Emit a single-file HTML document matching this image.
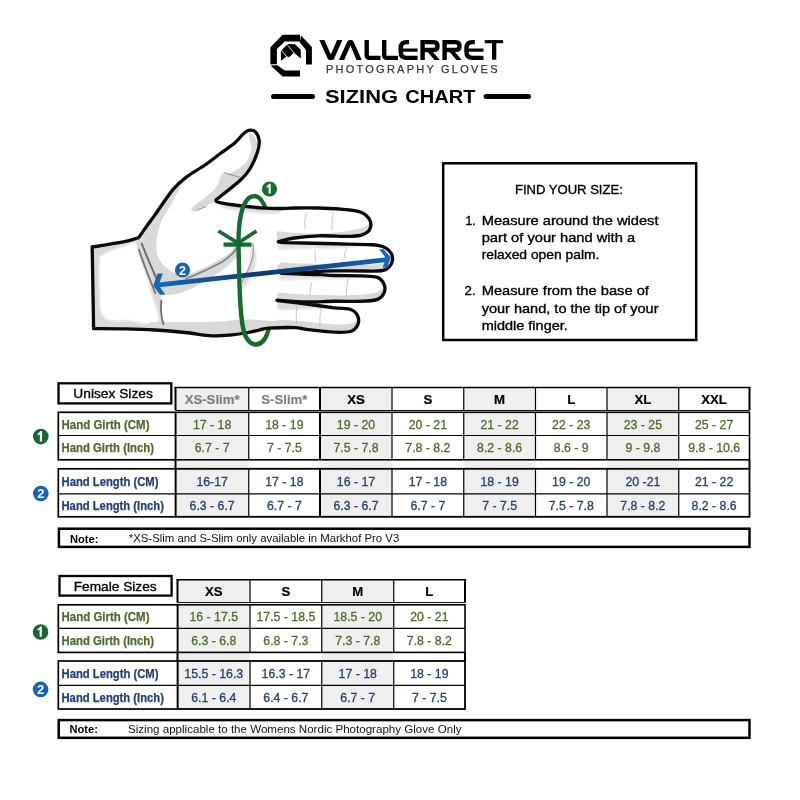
<!DOCTYPE html><html><head><meta charset="utf-8"><style>html,body{margin:0;padding:0;background:#fff;}svg{display:block;will-change:transform;}</style></head><body>
<svg width="800" height="800" viewBox="0 0 800 800">
<rect width="800" height="800" fill="#fff"/>
<polygon points="282.6,34.8 300,34.8 300,41.4 284.75,41.4 276.9,48.9 276.9,64.2 270.4,64.2 270.4,47.3" fill="#000"/>
<polygon points="301,35.6 311.9,47 311.9,64.5 306,64.5 306,50.1 299.8,42.4" fill="#000"/>
<polygon points="270.6,65.4 277.25,65.2 284.75,70.4 300,70.4 300,76.6 282.6,76.6" fill="#000"/>
<polygon points="280.9,51 287.6,44.1 295.1,44.3 300.75,49.75 300.75,58.4 294,52.75 288.9,57.25 286.6,56.3 281.5,60.6 280.9,60.2" fill="#000"/>
<line x1="286.7" y1="44.0" x2="294.3" y2="53.2" stroke="#fff" stroke-width="0.9"/>
<line x1="281.0" y1="50.0" x2="286.9" y2="56.8" stroke="#fff" stroke-width="0.9"/>
<path d="M319.3,40.1 L324.4,40.1 L330.9,54.6 L337.1,40.1 L342.4,40.1 L334.2,58.4 Q333.4,59.9 331.9,59.9 L329.9,59.9 Q328.4,59.9 327.6,58.4 Z" fill="#000"/>
<path d="M338.9,60.1 L344.2,60.1 L350.5,45.6 L356.5,60.1 L361.8,60.1 L353.6,41.7 Q352.8,40.1 351.3,40.1 L349.5,40.1 Q348,40.1 347.2,41.7 Z" fill="#000"/>
<path d="M366.7,40.1 L366.7,55.0 Q366.7,57.9 369.7,57.9 L380.5,57.9" fill="none" stroke="#000" stroke-width="4.4"/>
<path d="M384.2,40.1 L384.2,55.0 Q384.2,57.9 387.2,57.9 L398,57.9" fill="none" stroke="#000" stroke-width="4.4"/>
<path d="M409.1,42.1 L406.7,42.1 Q400.7,42.1 400.7,48 L400.7,52 Q400.7,57.9 406.7,57.9 L417.6,57.9" fill="none" stroke="#000" stroke-width="4.4"/>
<rect x="400.7" y="48.5" width="16.90" height="3.2" fill="#000"/>
<path d="M474.8,42.1 L472.5,42.1 Q466.5,42.1 466.5,48 L466.5,52 Q466.5,57.9 472.5,57.9 L483.5,57.9" fill="none" stroke="#000" stroke-width="4.4"/>
<rect x="466.5" y="48.5" width="17.00" height="3.2" fill="#000"/>
<path d="M422.59999999999997,60.0 L422.59999999999997,42.1 L433.7,42.1 Q437.5,42.1 437.5,46 Q437.5,50.05 433.7,50.05 L422.59999999999997,50.05" fill="none" stroke="#000" stroke-width="4.4"/>
<polygon points="425.9,50 431.2,50 439.79999999999995,60.0 434.5,60.0" fill="#000"/>
<path d="M444.59999999999997,60.0 L444.59999999999997,42.1 L455.7,42.1 Q459.5,42.1 459.5,46 Q459.5,50.05 455.7,50.05 L444.59999999999997,50.05" fill="none" stroke="#000" stroke-width="4.4"/>
<polygon points="447.9,50 453.2,50 461.79999999999995,60.0 456.5,60.0" fill="#000"/>
<rect x="484.7" y="40.1" width="18.4" height="3.1" fill="#000"/>
<rect x="492" y="40.1" width="4.3" height="19.6" fill="#000"/>
<text x="326" y="72.5" font-family='"Liberation Sans", sans-serif' font-size="11" fill="#383838" stroke="#383838" stroke-width="0.25" textLength="171.5" lengthAdjust="spacing">PHOTOGRAPHY GLOVES</text>
<rect x="271" y="94" width="44" height="5" rx="2.5" fill="#000"/>
<rect x="483.6" y="94" width="47.4" height="5" rx="2.5" fill="#000"/>
<text x="325" y="103" font-family='"Liberation Sans", sans-serif' font-weight="bold" font-size="18.2" fill="#000" textLength="73" lengthAdjust="spacingAndGlyphs">SIZING</text>
<text x="405.3" y="103" font-family='"Liberation Sans", sans-serif' font-weight="bold" font-size="18.2" fill="#000" textLength="70.3" lengthAdjust="spacingAndGlyphs">CHART</text>
<defs>
<clipPath id="hc"><path d="M93.60,328.50 L92.20,247.00 C95.79,246.40 107.78,244.42 113.75,243.40 C119.72,242.38 123.86,241.87 128.00,240.90 C132.14,239.93 136.83,238.15 138.60,237.60 C139.92,235.75 143.87,230.17 146.50,226.50 C149.13,222.83 149.97,221.78 154.40,215.60 C158.83,209.42 167.79,195.80 173.10,189.40 C178.41,183.00 180.93,181.27 186.25,177.20 C191.57,173.13 199.38,168.91 205.00,165.00 C210.62,161.09 215.00,157.45 220.00,153.75 C225.00,150.05 231.17,146.06 235.00,142.80 C238.83,139.54 240.73,136.28 243.00,134.20 C245.27,132.12 246.57,130.73 248.60,130.30 C250.63,129.87 253.43,129.88 255.20,131.60 C256.97,133.32 258.82,137.22 259.20,140.60 C259.58,143.98 259.03,147.21 257.50,151.90 C255.97,156.59 252.82,164.07 250.00,168.75 C247.18,173.43 246.22,174.84 240.60,180.00 C234.97,185.16 220.31,196.42 216.25,199.70 C216.64,200.13 214.22,201.25 218.60,202.30 C222.97,203.35 234.77,205.03 242.50,206.00 C250.23,206.97 258.75,207.68 265.00,208.10 C271.25,208.52 275.10,208.52 280.00,208.50 C284.90,208.48 287.94,208.08 294.40,208.00 C300.86,207.92 310.63,207.78 318.75,208.00 C326.87,208.22 337.39,208.90 343.10,209.30 C348.81,209.70 350.02,209.90 353.00,210.40 C355.98,210.90 358.67,211.33 361.00,212.30 C363.33,213.27 365.43,214.67 367.00,216.20 C368.57,217.73 369.80,219.70 370.40,221.50 C371.00,223.30 371.03,225.28 370.60,227.00 C370.17,228.72 369.32,230.45 367.80,231.80 C366.28,233.15 364.13,234.35 361.50,235.10 C358.87,235.85 355.07,236.08 352.00,236.30 C348.93,236.52 348.64,236.48 343.10,236.40 C337.56,236.32 326.87,235.53 318.75,235.80 C310.63,236.07 301.11,237.03 294.40,238.00 C287.69,238.97 281.15,241.00 278.50,241.60 C278.92,241.72 277.00,242.07 281.00,242.30 C285.00,242.53 293.50,242.76 302.50,243.00 C311.50,243.24 324.17,243.48 335.00,243.75 C345.83,244.02 360.33,244.34 367.50,244.60 C374.67,244.86 374.92,244.70 378.00,245.30 C381.08,245.90 383.80,246.83 386.00,248.20 C388.20,249.57 390.10,251.78 391.20,253.50 C392.30,255.22 392.60,256.70 392.60,258.50 C392.60,260.30 392.22,262.52 391.20,264.30 C390.18,266.08 388.70,268.08 386.50,269.20 C384.30,270.32 381.58,270.70 378.00,271.00 C374.42,271.30 372.17,271.02 365.00,271.00 C357.83,270.98 342.17,270.85 335.00,270.90 C327.83,270.95 326.79,271.05 322.00,271.30 C317.21,271.55 313.00,272.05 306.25,272.40 C299.50,272.75 285.62,273.23 281.50,273.40 C285.62,273.55 299.50,274.08 306.25,274.30 C313.00,274.52 317.31,274.50 322.00,274.70 C326.69,274.90 327.65,275.30 334.40,275.50 C341.15,275.70 355.32,275.58 362.50,275.90 C369.68,276.22 373.90,275.98 377.50,277.40 C381.10,278.82 383.00,281.83 384.10,284.40 C385.20,286.97 385.20,290.30 384.10,292.80 C383.00,295.30 381.10,297.99 377.50,299.40 C373.90,300.81 369.68,300.94 362.50,301.25 C355.32,301.56 343.77,301.12 334.40,301.25 C325.02,301.38 315.78,302.18 306.25,302.00 C296.72,301.82 282.04,300.50 277.20,300.20 C277.67,300.30 275.16,300.17 280.00,300.80 C284.84,301.43 297.18,302.83 306.25,304.00 C315.32,305.17 326.90,306.85 334.40,307.80 C341.90,308.75 347.35,308.29 351.25,309.70 C355.15,311.11 356.71,313.75 357.80,316.25 C358.89,318.75 358.89,322.20 357.80,324.70 C356.71,327.20 355.15,330.00 351.25,331.25 C347.35,332.50 341.90,332.51 334.40,332.20 C326.90,331.89 312.82,330.17 306.25,329.40 C299.68,328.63 301.25,327.80 295.00,327.60 C288.75,327.40 274.58,327.83 268.75,328.20 C262.92,328.57 263.46,329.08 260.00,329.80 C256.54,330.52 252.67,331.67 248.00,332.50 C243.33,333.33 238.00,334.25 232.00,334.80 C226.00,335.35 219.83,336.18 212.00,335.80 C204.17,335.42 194.50,333.47 185.00,332.50 C175.50,331.53 165.00,330.62 155.00,330.00 C145.00,329.38 135.23,329.05 125.00,328.80 C114.77,328.55 98.83,328.55 93.60,328.50 Z"/></clipPath>
<clipPath id="fc"><rect x="276.8" y="200" width="130" height="150"/></clipPath>
<filter id="bl" x="-20%" y="-20%" width="140%" height="140%"><feGaussianBlur stdDeviation="0.8"/></filter>
<linearGradient id="bg" gradientUnits="userSpaceOnUse" x1="155" y1="0" x2="390" y2="0"><stop offset="0" stop-color="#1766b4"/><stop offset="0.18" stop-color="#15589f"/><stop offset="0.45" stop-color="#0b3a72"/><stop offset="0.62" stop-color="#0e4580"/><stop offset="1" stop-color="#1766b4"/></linearGradient>
</defs>
<path d="M255.5,196.2 C264,197.5 270,215 272,250 C274,290 272,330 264,340" fill="none" stroke="#176a30" stroke-width="4.4" stroke-linecap="round"/>
<path d="M93.60,328.50 L92.20,247.00 C95.79,246.40 107.78,244.42 113.75,243.40 C119.72,242.38 123.86,241.87 128.00,240.90 C132.14,239.93 136.83,238.15 138.60,237.60 C139.92,235.75 143.87,230.17 146.50,226.50 C149.13,222.83 149.97,221.78 154.40,215.60 C158.83,209.42 167.79,195.80 173.10,189.40 C178.41,183.00 180.93,181.27 186.25,177.20 C191.57,173.13 199.38,168.91 205.00,165.00 C210.62,161.09 215.00,157.45 220.00,153.75 C225.00,150.05 231.17,146.06 235.00,142.80 C238.83,139.54 240.73,136.28 243.00,134.20 C245.27,132.12 246.57,130.73 248.60,130.30 C250.63,129.87 253.43,129.88 255.20,131.60 C256.97,133.32 258.82,137.22 259.20,140.60 C259.58,143.98 259.03,147.21 257.50,151.90 C255.97,156.59 252.82,164.07 250.00,168.75 C247.18,173.43 246.22,174.84 240.60,180.00 C234.97,185.16 220.31,196.42 216.25,199.70 C216.64,200.13 214.22,201.25 218.60,202.30 C222.97,203.35 234.77,205.03 242.50,206.00 C250.23,206.97 258.75,207.68 265.00,208.10 C271.25,208.52 275.10,208.52 280.00,208.50 C284.90,208.48 287.94,208.08 294.40,208.00 C300.86,207.92 310.63,207.78 318.75,208.00 C326.87,208.22 337.39,208.90 343.10,209.30 C348.81,209.70 350.02,209.90 353.00,210.40 C355.98,210.90 358.67,211.33 361.00,212.30 C363.33,213.27 365.43,214.67 367.00,216.20 C368.57,217.73 369.80,219.70 370.40,221.50 C371.00,223.30 371.03,225.28 370.60,227.00 C370.17,228.72 369.32,230.45 367.80,231.80 C366.28,233.15 364.13,234.35 361.50,235.10 C358.87,235.85 355.07,236.08 352.00,236.30 C348.93,236.52 348.64,236.48 343.10,236.40 C337.56,236.32 326.87,235.53 318.75,235.80 C310.63,236.07 301.11,237.03 294.40,238.00 C287.69,238.97 281.15,241.00 278.50,241.60 C278.92,241.72 277.00,242.07 281.00,242.30 C285.00,242.53 293.50,242.76 302.50,243.00 C311.50,243.24 324.17,243.48 335.00,243.75 C345.83,244.02 360.33,244.34 367.50,244.60 C374.67,244.86 374.92,244.70 378.00,245.30 C381.08,245.90 383.80,246.83 386.00,248.20 C388.20,249.57 390.10,251.78 391.20,253.50 C392.30,255.22 392.60,256.70 392.60,258.50 C392.60,260.30 392.22,262.52 391.20,264.30 C390.18,266.08 388.70,268.08 386.50,269.20 C384.30,270.32 381.58,270.70 378.00,271.00 C374.42,271.30 372.17,271.02 365.00,271.00 C357.83,270.98 342.17,270.85 335.00,270.90 C327.83,270.95 326.79,271.05 322.00,271.30 C317.21,271.55 313.00,272.05 306.25,272.40 C299.50,272.75 285.62,273.23 281.50,273.40 C285.62,273.55 299.50,274.08 306.25,274.30 C313.00,274.52 317.31,274.50 322.00,274.70 C326.69,274.90 327.65,275.30 334.40,275.50 C341.15,275.70 355.32,275.58 362.50,275.90 C369.68,276.22 373.90,275.98 377.50,277.40 C381.10,278.82 383.00,281.83 384.10,284.40 C385.20,286.97 385.20,290.30 384.10,292.80 C383.00,295.30 381.10,297.99 377.50,299.40 C373.90,300.81 369.68,300.94 362.50,301.25 C355.32,301.56 343.77,301.12 334.40,301.25 C325.02,301.38 315.78,302.18 306.25,302.00 C296.72,301.82 282.04,300.50 277.20,300.20 C277.67,300.30 275.16,300.17 280.00,300.80 C284.84,301.43 297.18,302.83 306.25,304.00 C315.32,305.17 326.90,306.85 334.40,307.80 C341.90,308.75 347.35,308.29 351.25,309.70 C355.15,311.11 356.71,313.75 357.80,316.25 C358.89,318.75 358.89,322.20 357.80,324.70 C356.71,327.20 355.15,330.00 351.25,331.25 C347.35,332.50 341.90,332.51 334.40,332.20 C326.90,331.89 312.82,330.17 306.25,329.40 C299.68,328.63 301.25,327.80 295.00,327.60 C288.75,327.40 274.58,327.83 268.75,328.20 C262.92,328.57 263.46,329.08 260.00,329.80 C256.54,330.52 252.67,331.67 248.00,332.50 C243.33,333.33 238.00,334.25 232.00,334.80 C226.00,335.35 219.83,336.18 212.00,335.80 C204.17,335.42 194.50,333.47 185.00,332.50 C175.50,331.53 165.00,330.62 155.00,330.00 C145.00,329.38 135.23,329.05 125.00,328.80 C114.77,328.55 98.83,328.55 93.60,328.50 Z" fill="#fff"/>
<g clip-path="url(#hc)"><path d="M88.00,240.00 L141.00,232.00 L150.00,262.00 L158.00,284.00 L161.50,300.00 L162.50,336.00 L88.00,336.00 Z" fill="#d9d9d9"/>
<path d="M99.50,256.50 C101.92,255.33 109.42,251.33 114.00,249.50 C118.58,247.67 123.33,246.50 127.00,245.50 C130.67,244.50 133.33,240.08 136.00,243.50 C138.67,246.92 140.50,257.92 143.00,266.00 C145.50,274.08 148.50,282.58 151.00,292.00 C153.50,301.42 161.50,317.67 158.00,322.50 C154.50,327.33 139.00,321.83 130.00,321.00 C121.00,320.17 109.08,322.67 104.00,317.50 C98.92,312.33 100.25,300.17 99.50,290.00 C98.75,279.83 99.50,262.08 99.50,256.50 Z" fill="#fff" filter="url(#bl)"/>
<path d="M186.00,176.00 C183.83,178.00 178.33,181.67 173.00,188.00 C167.67,194.33 159.67,206.17 154.00,214.00 C148.33,221.83 141.67,229.00 139.00,235.00 C136.33,241.00 136.83,243.83 138.00,250.00 C139.17,256.17 143.00,265.50 146.00,272.00 C149.00,278.50 152.00,285.17 156.00,289.00 C160.00,292.83 164.67,294.83 170.00,295.00 C175.33,295.17 181.17,292.83 188.00,290.00 C194.83,287.17 203.33,283.00 211.00,278.00 C218.67,273.00 229.17,265.00 234.00,260.00 C238.83,255.00 239.58,250.58 240.00,248.00 C240.42,245.42 238.38,243.57 236.50,244.50 C234.62,245.43 233.17,250.22 228.75,253.60 C224.33,256.98 216.29,261.53 210.00,264.80 C203.71,268.07 196.33,271.63 191.00,273.20 C185.67,274.77 182.33,275.28 178.00,274.20 C173.67,273.12 168.42,269.82 165.00,266.70 C161.58,263.58 158.90,259.87 157.50,255.50 C156.10,251.13 156.02,246.08 156.60,240.50 C157.18,234.92 158.43,228.25 161.00,222.00 C163.57,215.75 167.83,210.67 172.00,203.00 C176.17,195.33 183.67,180.50 186.00,176.00 Z" fill="#d9d9d9"/>
<path d="M249.00,132.00 C250.17,133.17 254.50,136.00 256.00,139.00 C257.50,142.00 258.67,145.50 258.00,150.00 C257.33,154.50 254.83,161.00 252.00,166.00 C249.17,171.00 245.50,175.50 241.00,180.00 C236.50,184.50 229.50,189.42 225.00,193.00 C220.50,196.58 218.67,198.50 214.00,201.50 C209.33,204.50 200.75,209.83 197.00,211.00 C193.25,212.17 190.00,210.83 191.50,208.50 C193.00,206.17 201.75,200.75 206.00,197.00 C210.25,193.25 214.33,189.75 217.00,186.00 C219.67,182.25 219.50,176.75 222.00,174.50 C224.50,172.25 228.00,174.50 232.00,172.50 C236.00,170.50 242.75,166.42 246.00,162.50 C249.25,158.58 251.00,153.08 251.50,149.00 C252.00,144.92 249.42,140.83 249.00,138.00 C248.58,135.17 249.00,133.00 249.00,132.00 Z" fill="#d9d9d9"/>
<path d="M216.00,199.00 C220.00,199.92 231.83,203.17 240.00,204.50 C248.17,205.83 258.33,206.50 265.00,207.00 C271.67,207.50 277.50,206.50 280.00,207.50 C282.50,208.50 283.00,212.00 280.00,213.00 C277.00,214.00 268.67,213.83 262.00,213.50 C255.33,213.17 246.67,212.08 240.00,211.00 C233.33,209.92 226.00,209.00 222.00,207.00 C218.00,205.00 217.00,200.33 216.00,199.00 Z" fill="#dddddd" filter="url(#bl)"/>
<path d="M250.00,240.00 C250.92,242.00 254.67,247.67 255.50,252.00 C256.33,256.33 256.08,261.33 255.00,266.00 C253.92,270.67 251.33,276.00 249.00,280.00 C246.67,284.00 241.83,290.33 241.00,290.00 C240.17,289.67 242.58,282.17 244.00,278.00 C245.42,273.83 248.42,269.33 249.50,265.00 C250.58,260.67 250.42,256.17 250.50,252.00 C250.58,247.83 250.08,242.00 250.00,240.00 Z" fill="#dcdcdc" filter="url(#bl)"/>
<path d="M150.00,322.00 C156.67,322.00 178.33,322.08 190.00,322.00 C201.67,321.92 211.33,321.92 220.00,321.50 C228.67,321.08 234.33,319.67 242.00,319.50 C249.67,319.33 257.00,320.00 266.00,320.50 C275.00,321.00 287.00,321.58 296.00,322.50 C305.00,323.42 316.00,323.08 320.00,326.00 C324.00,328.92 348.33,337.67 320.00,340.00 C291.67,342.33 178.33,343.00 150.00,340.00 C121.67,337.00 150.00,325.00 150.00,322.00 Z" fill="#d9d9d9"/>
<g clip-path="url(#fc)"><path d="M277.50,231.00 C279.58,231.27 285.83,232.23 290.00,232.60 C294.17,232.97 295.54,233.13 302.50,233.20 C309.46,233.27 322.54,233.68 331.75,233.00 C340.96,232.32 351.79,230.43 357.75,229.10 C363.71,227.77 364.96,226.35 367.50,225.00 C370.04,223.65 372.08,218.50 373.00,221.00 C373.92,223.50 388.92,236.33 373.00,240.00 C357.08,243.67 293.42,244.50 277.50,243.00 C261.58,241.50 277.50,233.00 277.50,231.00 Z" fill="#d9d9d9"/>
<path d="M280.50,262.20 C282.92,262.37 288.62,262.93 295.00,263.20 C301.38,263.47 309.38,263.55 318.75,263.80 C328.12,264.05 340.69,264.70 351.25,264.70 C361.81,264.70 375.88,264.67 382.10,263.80 C388.33,262.93 386.62,260.97 388.60,259.50 C390.58,258.03 393.10,252.58 394.00,255.00 C394.90,257.42 412.92,270.67 394.00,274.00 C375.08,277.33 299.42,276.97 280.50,275.00 C261.58,273.03 280.50,264.33 280.50,262.20 Z" fill="#d9d9d9"/>
<path d="M278.50,292.40 C280.75,292.63 287.38,293.45 292.00,293.80 C296.62,294.15 297.62,294.23 306.25,294.50 C314.88,294.77 332.81,295.55 343.75,295.40 C354.69,295.25 365.65,294.53 371.90,293.60 C378.15,292.67 378.73,291.40 381.25,289.80 C383.77,288.20 386.04,281.63 387.00,284.00 C387.96,286.37 405.08,300.83 387.00,304.00 C368.92,307.17 296.58,304.93 278.50,303.00 C260.42,301.07 278.50,294.17 278.50,292.40 Z" fill="#d9d9d9"/>
<path d="M262.00,320.50 C264.67,320.38 270.62,319.60 278.00,319.80 C285.38,320.00 296.85,320.92 306.25,321.70 C315.65,322.48 326.90,324.18 334.40,324.50 C341.90,324.82 347.35,324.38 351.25,323.60 C355.15,322.82 356.18,321.07 357.80,319.80 C359.43,318.53 360.47,313.47 361.00,316.00 C361.53,318.53 377.50,332.17 361.00,335.00 C344.50,337.83 278.50,335.42 262.00,333.00 C245.50,330.58 262.00,322.58 262.00,320.50 Z" fill="#d9d9d9"/>
<path d="M279.00,243.00 C285.83,243.13 306.50,243.47 320.00,243.80 C333.50,244.13 356.67,244.27 360.00,245.00 C363.33,245.73 350.00,247.62 340.00,248.20 C330.00,248.78 310.17,248.28 300.00,248.50 C289.83,248.72 282.50,250.42 279.00,249.50 C275.50,248.58 279.00,244.08 279.00,243.00 Z" fill="#e2e2e2" filter="url(#bl)"/>
<path d="M280.00,274.00 C286.67,274.17 305.00,274.58 320.00,275.00 C335.00,275.42 366.67,275.83 370.00,276.50 C373.33,277.17 351.67,278.50 340.00,279.00 C328.33,279.50 310.00,279.33 300.00,279.50 C290.00,279.67 283.33,280.92 280.00,280.00 C276.67,279.08 280.00,275.00 280.00,274.00 Z" fill="#e2e2e2" filter="url(#bl)"/>
<path d="M278.00,301.00 C281.67,301.42 292.17,302.42 300.00,303.50 C307.83,304.58 325.00,306.50 325.00,307.50 C325.00,308.50 307.83,309.25 300.00,309.50 C292.17,309.75 281.67,310.42 278.00,309.00 C274.33,307.58 278.00,302.33 278.00,301.00 Z" fill="#dcdcdc" filter="url(#bl)"/></g></g>
<path d="M141.5,243 C145,252 150.5,265.6 157.5,280.6" fill="none" stroke="#6a6a6a" stroke-width="1.9"/>
<path d="M138.8,249 C142,260 148.1,275 155.6,293.75" fill="none" stroke="#757575" stroke-width="1.8"/>
<path d="M161.5,300 C160,310 161.5,318 163.6,325" fill="none" stroke="#6e6e6e" stroke-width="1.8"/>
<path d="M185.6,278.75 C196,275 210,268.4 222,262 C228,258 233,254 237.2,247.8" fill="none" stroke="#808080" stroke-width="1.8"/>
<path d="M253,243 C254.5,252 252,262 247.5,271.25 C245,276 243.5,279 241.9,282.5" fill="none" stroke="#9c9c9c" stroke-width="1.2"/>
<path d="M223.6,172.5 L240.6,177.5" fill="none" stroke="#888" stroke-width="0.9"/>
<path d="M196.75,210 L206.5,206.5" fill="none" stroke="#999" stroke-width="1"/>
<path d="M306,213 Q304.3,221.0 305,229" fill="none" stroke="#b0b0b0" stroke-width="0.7"/>
<path d="M333.5,212 Q331.55,221.0 332,230" fill="none" stroke="#b0b0b0" stroke-width="0.7"/>
<path d="M315.4,250 Q314.40000000000003,256.0 315.8,262" fill="none" stroke="#b0b0b0" stroke-width="0.7"/>
<path d="M346.9,247 Q344.40000000000003,252.5 344.3,258" fill="none" stroke="#b0b0b0" stroke-width="0.7"/>
<path d="M311.9,282 Q309.75,289.0 310,296" fill="none" stroke="#b0b0b0" stroke-width="0.7"/>
<path d="M348.6,277.6 Q346.1,287.3 346,297" fill="none" stroke="#b0b0b0" stroke-width="0.7"/>
<path d="M297,306 Q295.55,315.0 296.5,324" fill="none" stroke="#b0b0b0" stroke-width="0.7"/>
<path d="M321,308 Q319.3,317.0 320,326" fill="none" stroke="#b0b0b0" stroke-width="0.7"/>
<path d="M93.60,328.50 L92.20,247.00 C95.79,246.40 107.78,244.42 113.75,243.40 C119.72,242.38 123.86,241.87 128.00,240.90 C132.14,239.93 136.83,238.15 138.60,237.60 C139.92,235.75 143.87,230.17 146.50,226.50 C149.13,222.83 149.97,221.78 154.40,215.60 C158.83,209.42 167.79,195.80 173.10,189.40 C178.41,183.00 180.93,181.27 186.25,177.20 C191.57,173.13 199.38,168.91 205.00,165.00 C210.62,161.09 215.00,157.45 220.00,153.75 C225.00,150.05 231.17,146.06 235.00,142.80 C238.83,139.54 240.73,136.28 243.00,134.20 C245.27,132.12 246.57,130.73 248.60,130.30 C250.63,129.87 253.43,129.88 255.20,131.60 C256.97,133.32 258.82,137.22 259.20,140.60 C259.58,143.98 259.03,147.21 257.50,151.90 C255.97,156.59 252.82,164.07 250.00,168.75 C247.18,173.43 246.22,174.84 240.60,180.00 C234.97,185.16 220.31,196.42 216.25,199.70 C216.64,200.13 214.22,201.25 218.60,202.30 C222.97,203.35 234.77,205.03 242.50,206.00 C250.23,206.97 258.75,207.68 265.00,208.10 C271.25,208.52 275.10,208.52 280.00,208.50 C284.90,208.48 287.94,208.08 294.40,208.00 C300.86,207.92 310.63,207.78 318.75,208.00 C326.87,208.22 337.39,208.90 343.10,209.30 C348.81,209.70 350.02,209.90 353.00,210.40 C355.98,210.90 358.67,211.33 361.00,212.30 C363.33,213.27 365.43,214.67 367.00,216.20 C368.57,217.73 369.80,219.70 370.40,221.50 C371.00,223.30 371.03,225.28 370.60,227.00 C370.17,228.72 369.32,230.45 367.80,231.80 C366.28,233.15 364.13,234.35 361.50,235.10 C358.87,235.85 355.07,236.08 352.00,236.30 C348.93,236.52 348.64,236.48 343.10,236.40 C337.56,236.32 326.87,235.53 318.75,235.80 C310.63,236.07 301.11,237.03 294.40,238.00 C287.69,238.97 281.15,241.00 278.50,241.60 C278.92,241.72 277.00,242.07 281.00,242.30 C285.00,242.53 293.50,242.76 302.50,243.00 C311.50,243.24 324.17,243.48 335.00,243.75 C345.83,244.02 360.33,244.34 367.50,244.60 C374.67,244.86 374.92,244.70 378.00,245.30 C381.08,245.90 383.80,246.83 386.00,248.20 C388.20,249.57 390.10,251.78 391.20,253.50 C392.30,255.22 392.60,256.70 392.60,258.50 C392.60,260.30 392.22,262.52 391.20,264.30 C390.18,266.08 388.70,268.08 386.50,269.20 C384.30,270.32 381.58,270.70 378.00,271.00 C374.42,271.30 372.17,271.02 365.00,271.00 C357.83,270.98 342.17,270.85 335.00,270.90 C327.83,270.95 326.79,271.05 322.00,271.30 C317.21,271.55 313.00,272.05 306.25,272.40 C299.50,272.75 285.62,273.23 281.50,273.40 C285.62,273.55 299.50,274.08 306.25,274.30 C313.00,274.52 317.31,274.50 322.00,274.70 C326.69,274.90 327.65,275.30 334.40,275.50 C341.15,275.70 355.32,275.58 362.50,275.90 C369.68,276.22 373.90,275.98 377.50,277.40 C381.10,278.82 383.00,281.83 384.10,284.40 C385.20,286.97 385.20,290.30 384.10,292.80 C383.00,295.30 381.10,297.99 377.50,299.40 C373.90,300.81 369.68,300.94 362.50,301.25 C355.32,301.56 343.77,301.12 334.40,301.25 C325.02,301.38 315.78,302.18 306.25,302.00 C296.72,301.82 282.04,300.50 277.20,300.20 C277.67,300.30 275.16,300.17 280.00,300.80 C284.84,301.43 297.18,302.83 306.25,304.00 C315.32,305.17 326.90,306.85 334.40,307.80 C341.90,308.75 347.35,308.29 351.25,309.70 C355.15,311.11 356.71,313.75 357.80,316.25 C358.89,318.75 358.89,322.20 357.80,324.70 C356.71,327.20 355.15,330.00 351.25,331.25 C347.35,332.50 341.90,332.51 334.40,332.20 C326.90,331.89 312.82,330.17 306.25,329.40 C299.68,328.63 301.25,327.80 295.00,327.60 C288.75,327.40 274.58,327.83 268.75,328.20 C262.92,328.57 263.46,329.08 260.00,329.80 C256.54,330.52 252.67,331.67 248.00,332.50 C243.33,333.33 238.00,334.25 232.00,334.80 C226.00,335.35 219.83,336.18 212.00,335.80 C204.17,335.42 194.50,333.47 185.00,332.50 C175.50,331.53 165.00,330.62 155.00,330.00 C145.00,329.38 135.23,329.05 125.00,328.80 C114.77,328.55 98.83,328.55 93.60,328.50 Z" fill="none" stroke="#0a0a0a" stroke-width="3.3" stroke-linejoin="round"/>
<path d="M157,285.2 L387,259.6" fill="none" stroke="url(#bg)" stroke-width="4.8"/>
<polygon points="153.2,285.7 157.6,273.5 162.8,273.5 159.6,282.4 160.4,287.8 165.4,294.7 160.1,294.7" fill="#1766b4"/>
<polygon points="390.8,257.5 383.6,249.2 379.2,249.2 385.0,257.0 384.5,262.6 382.6,267.6 387.1,267.6" fill="#1766b4"/>
<circle cx="182.5" cy="270" r="7.6" fill="#1766b4"/>
<text x="182.5" y="274.6" font-family='"Liberation Sans", sans-serif' font-weight="bold" font-size="12.5" fill="#fff" text-anchor="middle">2</text>
<path d="M264,340 C258,347 250,346 245,335 C240,322 239.5,290 238.6,250 C237.5,215 244,194.5 255.5,196.2" fill="none" stroke="#176a30" stroke-width="4.4" stroke-linecap="round"/>
<rect x="223.5" y="242.5" width="28" height="4.2" fill="#176a30"/>
<path d="M218.5,231 L238,243 L256.5,231" fill="none" stroke="#176a30" stroke-width="3.8"/>
<circle cx="269.5" cy="189" r="7.6" fill="#176a30"/>
<path d="M268.60,193.56 L270.69,193.56 L270.69,183.78 L269.12,183.78 Q268.26,185.29 266.65,186.06 L266.65,187.86 Q267.69,187.48 268.60,186.72 Z" fill="#fff"/>
<rect x="443.2" y="163.3" width="253" height="176.7" fill="none" stroke="#000" stroke-width="2.5"/>
<text x="515" y="193.7" font-family='"Liberation Sans", sans-serif' font-size="13" font-weight="normal" fill="#000" text-anchor="start" textLength="107.8" lengthAdjust="spacingAndGlyphs" stroke="#000" stroke-width="0.35">FIND YOUR SIZE:</text>
<text x="465.5" y="225.3" font-family='"Liberation Sans", sans-serif' font-size="13" font-weight="normal" fill="#000" text-anchor="start" textLength="10.1" lengthAdjust="spacingAndGlyphs" stroke="#000" stroke-width="0.35">1.</text>
<text x="481.7" y="225.3" font-family='"Liberation Sans", sans-serif' font-size="13" font-weight="normal" fill="#000" text-anchor="start" textLength="176.8" lengthAdjust="spacingAndGlyphs" stroke="#000" stroke-width="0.35">Measure around the widest</text>
<text x="481.7" y="242.4" font-family='"Liberation Sans", sans-serif' font-size="13" font-weight="normal" fill="#000" text-anchor="start" textLength="153.4" lengthAdjust="spacingAndGlyphs" stroke="#000" stroke-width="0.35">part of your hand with a</text>
<text x="481.7" y="258.9" font-family='"Liberation Sans", sans-serif' font-size="13" font-weight="normal" fill="#000" text-anchor="start" textLength="117.7" lengthAdjust="spacingAndGlyphs" stroke="#000" stroke-width="0.35">relaxed open palm.</text>
<text x="464.6" y="295.3" font-family='"Liberation Sans", sans-serif' font-size="13" font-weight="normal" fill="#000" text-anchor="start" textLength="11" lengthAdjust="spacingAndGlyphs" stroke="#000" stroke-width="0.35">2.</text>
<text x="481.7" y="295.3" font-family='"Liberation Sans", sans-serif' font-size="13" font-weight="normal" fill="#000" text-anchor="start" textLength="167.2" lengthAdjust="spacingAndGlyphs" stroke="#000" stroke-width="0.35">Measure from the base of</text>
<text x="481.7" y="312.6" font-family='"Liberation Sans", sans-serif' font-size="13" font-weight="normal" fill="#000" text-anchor="start" textLength="176.8" lengthAdjust="spacingAndGlyphs" stroke="#000" stroke-width="0.35">your hand, to the tip of your</text>
<text x="481.7" y="330" font-family='"Liberation Sans", sans-serif' font-size="13" font-weight="normal" fill="#000" text-anchor="start" textLength="86.1" lengthAdjust="spacingAndGlyphs" stroke="#000" stroke-width="0.35">middle finger.</text>
<rect x="175.5" y="387.5" width="73.25" height="129.30" fill="#efefef"/>
<rect x="320" y="387.5" width="72.00" height="129.30" fill="#efefef"/>
<rect x="463.75" y="387.5" width="71.75" height="129.30" fill="#efefef"/>
<rect x="607" y="387.5" width="71.75" height="129.30" fill="#efefef"/>
<text x="212.12" y="404.05" font-family='"Liberation Sans", sans-serif' font-weight="bold" font-size="13.2" fill="#7f7f7f" stroke="#7f7f7f" stroke-width="0.2" text-anchor="middle">XS-Slim*</text>
<text x="284.38" y="404.05" font-family='"Liberation Sans", sans-serif' font-weight="bold" font-size="13.2" fill="#7f7f7f" stroke="#7f7f7f" stroke-width="0.2" text-anchor="middle">S-Slim*</text>
<text x="356.00" y="404.05" font-family='"Liberation Sans", sans-serif' font-weight="bold" font-size="13.2" fill="#000" stroke="#000" stroke-width="0.2" text-anchor="middle">XS</text>
<text x="427.88" y="404.05" font-family='"Liberation Sans", sans-serif' font-weight="bold" font-size="13.2" fill="#000" stroke="#000" stroke-width="0.2" text-anchor="middle">S</text>
<text x="499.62" y="404.05" font-family='"Liberation Sans", sans-serif' font-weight="bold" font-size="13.2" fill="#000" stroke="#000" stroke-width="0.2" text-anchor="middle">M</text>
<text x="571.25" y="404.05" font-family='"Liberation Sans", sans-serif' font-weight="bold" font-size="13.2" fill="#000" stroke="#000" stroke-width="0.2" text-anchor="middle">L</text>
<text x="642.88" y="404.05" font-family='"Liberation Sans", sans-serif' font-weight="bold" font-size="13.2" fill="#000" stroke="#000" stroke-width="0.2" text-anchor="middle">XL</text>
<text x="714.12" y="404.05" font-family='"Liberation Sans", sans-serif' font-weight="bold" font-size="13.2" fill="#000" stroke="#000" stroke-width="0.2" text-anchor="middle">XXL</text>
<text x="212.12" y="428.50" font-family='"Liberation Sans", sans-serif' font-size="12.3" fill="#4f6a2c" stroke="#4f6a2c" stroke-width="0.3" text-anchor="middle">17 - 18</text>
<text x="284.38" y="428.50" font-family='"Liberation Sans", sans-serif' font-size="12.3" fill="#4f6a2c" stroke="#4f6a2c" stroke-width="0.3" text-anchor="middle">18 - 19</text>
<text x="356.00" y="428.50" font-family='"Liberation Sans", sans-serif' font-size="12.3" fill="#4f6a2c" stroke="#4f6a2c" stroke-width="0.3" text-anchor="middle">19 - 20</text>
<text x="427.88" y="428.50" font-family='"Liberation Sans", sans-serif' font-size="12.3" fill="#4f6a2c" stroke="#4f6a2c" stroke-width="0.3" text-anchor="middle">20 - 21</text>
<text x="499.62" y="428.50" font-family='"Liberation Sans", sans-serif' font-size="12.3" fill="#4f6a2c" stroke="#4f6a2c" stroke-width="0.3" text-anchor="middle">21 - 22</text>
<text x="571.25" y="428.50" font-family='"Liberation Sans", sans-serif' font-size="12.3" fill="#4f6a2c" stroke="#4f6a2c" stroke-width="0.3" text-anchor="middle">22 - 23</text>
<text x="642.88" y="428.50" font-family='"Liberation Sans", sans-serif' font-size="12.3" fill="#4f6a2c" stroke="#4f6a2c" stroke-width="0.3" text-anchor="middle">23 - 25</text>
<text x="714.12" y="428.50" font-family='"Liberation Sans", sans-serif' font-size="12.3" fill="#4f6a2c" stroke="#4f6a2c" stroke-width="0.3" text-anchor="middle">25 - 27</text>
<text x="212.12" y="452.25" font-family='"Liberation Sans", sans-serif' font-size="12.3" fill="#4f6a2c" stroke="#4f6a2c" stroke-width="0.3" text-anchor="middle">6.7 - 7</text>
<text x="284.38" y="452.25" font-family='"Liberation Sans", sans-serif' font-size="12.3" fill="#4f6a2c" stroke="#4f6a2c" stroke-width="0.3" text-anchor="middle">7 - 7.5</text>
<text x="356.00" y="452.25" font-family='"Liberation Sans", sans-serif' font-size="12.3" fill="#4f6a2c" stroke="#4f6a2c" stroke-width="0.3" text-anchor="middle">7.5 - 7.8</text>
<text x="427.88" y="452.25" font-family='"Liberation Sans", sans-serif' font-size="12.3" fill="#4f6a2c" stroke="#4f6a2c" stroke-width="0.3" text-anchor="middle">7.8 - 8.2</text>
<text x="499.62" y="452.25" font-family='"Liberation Sans", sans-serif' font-size="12.3" fill="#4f6a2c" stroke="#4f6a2c" stroke-width="0.3" text-anchor="middle">8.2 - 8.6</text>
<text x="571.25" y="452.25" font-family='"Liberation Sans", sans-serif' font-size="12.3" fill="#4f6a2c" stroke="#4f6a2c" stroke-width="0.3" text-anchor="middle">8.6 - 9</text>
<text x="642.88" y="452.25" font-family='"Liberation Sans", sans-serif' font-size="12.3" fill="#4f6a2c" stroke="#4f6a2c" stroke-width="0.3" text-anchor="middle">9 - 9.8</text>
<text x="714.12" y="452.25" font-family='"Liberation Sans", sans-serif' font-size="12.3" fill="#4f6a2c" stroke="#4f6a2c" stroke-width="0.3" text-anchor="middle">9.8 - 10.6</text>
<text x="212.12" y="485.90" font-family='"Liberation Sans", sans-serif' font-size="12.3" fill="#223f77" stroke="#223f77" stroke-width="0.3" text-anchor="middle">16-17</text>
<text x="284.38" y="485.90" font-family='"Liberation Sans", sans-serif' font-size="12.3" fill="#223f77" stroke="#223f77" stroke-width="0.3" text-anchor="middle">17 - 18</text>
<text x="356.00" y="485.90" font-family='"Liberation Sans", sans-serif' font-size="12.3" fill="#223f77" stroke="#223f77" stroke-width="0.3" text-anchor="middle">16 - 17</text>
<text x="427.88" y="485.90" font-family='"Liberation Sans", sans-serif' font-size="12.3" fill="#223f77" stroke="#223f77" stroke-width="0.3" text-anchor="middle">17 - 18</text>
<text x="499.62" y="485.90" font-family='"Liberation Sans", sans-serif' font-size="12.3" fill="#223f77" stroke="#223f77" stroke-width="0.3" text-anchor="middle">18 - 19</text>
<text x="571.25" y="485.90" font-family='"Liberation Sans", sans-serif' font-size="12.3" fill="#223f77" stroke="#223f77" stroke-width="0.3" text-anchor="middle">19 - 20</text>
<text x="642.88" y="485.90" font-family='"Liberation Sans", sans-serif' font-size="12.3" fill="#223f77" stroke="#223f77" stroke-width="0.3" text-anchor="middle">20 -21</text>
<text x="714.12" y="485.90" font-family='"Liberation Sans", sans-serif' font-size="12.3" fill="#223f77" stroke="#223f77" stroke-width="0.3" text-anchor="middle">21 - 22</text>
<text x="212.12" y="509.90" font-family='"Liberation Sans", sans-serif' font-size="12.3" fill="#223f77" stroke="#223f77" stroke-width="0.3" text-anchor="middle">6.3 - 6.7</text>
<text x="284.38" y="509.90" font-family='"Liberation Sans", sans-serif' font-size="12.3" fill="#223f77" stroke="#223f77" stroke-width="0.3" text-anchor="middle">6.7 - 7</text>
<text x="356.00" y="509.90" font-family='"Liberation Sans", sans-serif' font-size="12.3" fill="#223f77" stroke="#223f77" stroke-width="0.3" text-anchor="middle">6.3 - 6.7</text>
<text x="427.88" y="509.90" font-family='"Liberation Sans", sans-serif' font-size="12.3" fill="#223f77" stroke="#223f77" stroke-width="0.3" text-anchor="middle">6.7 - 7</text>
<text x="499.62" y="509.90" font-family='"Liberation Sans", sans-serif' font-size="12.3" fill="#223f77" stroke="#223f77" stroke-width="0.3" text-anchor="middle">7 - 7.5</text>
<text x="571.25" y="509.90" font-family='"Liberation Sans", sans-serif' font-size="12.3" fill="#223f77" stroke="#223f77" stroke-width="0.3" text-anchor="middle">7.5 - 7.8</text>
<text x="642.88" y="509.90" font-family='"Liberation Sans", sans-serif' font-size="12.3" fill="#223f77" stroke="#223f77" stroke-width="0.3" text-anchor="middle">7.8 - 8.2</text>
<text x="714.12" y="509.90" font-family='"Liberation Sans", sans-serif' font-size="12.3" fill="#223f77" stroke="#223f77" stroke-width="0.3" text-anchor="middle">8.2 - 8.6</text>
<line x1="174.5" y1="387.5" x2="750.5" y2="387.5" stroke="#000" stroke-width="1.6"/>
<line x1="175.5" y1="387.5" x2="175.5" y2="410.2" stroke="#000" stroke-width="2"/>
<line x1="749.5" y1="387.5" x2="749.5" y2="410.2" stroke="#000" stroke-width="2"/>
<rect x="175.5" y="410" width="574.00" height="1.0" fill="#111"/>
<rect x="175.5" y="411" width="574.00" height="0.9" fill="#f4f4f4"/>
<rect x="175.5" y="412.3" width="574.00" height="47.50" fill="none" stroke="#000" stroke-width="1.6"/>
<rect x="175.5" y="468.8" width="574.00" height="48.00" fill="none" stroke="#000" stroke-width="1.8"/>
<line x1="175.5" y1="435.5" x2="749.5" y2="435.5" stroke="#000" stroke-width="1.2"/>
<line x1="175.5" y1="493.8" x2="749.5" y2="493.8" stroke="#000" stroke-width="1.2"/>
<line x1="175.5" y1="459.8" x2="175.5" y2="468.8" stroke="#000" stroke-width="2"/>
<line x1="749.5" y1="459.8" x2="749.5" y2="468.8" stroke="#000" stroke-width="2"/>
<line x1="248.75" y1="387.5" x2="248.75" y2="410.2" stroke="#000" stroke-width="1.2"/>
<line x1="248.75" y1="412.3" x2="248.75" y2="459.8" stroke="#000" stroke-width="1.2"/>
<line x1="248.75" y1="468.8" x2="248.75" y2="516.8" stroke="#000" stroke-width="1.2"/>
<line x1="320" y1="387.5" x2="320" y2="410.2" stroke="#000" stroke-width="2"/>
<line x1="320" y1="412.3" x2="320" y2="459.8" stroke="#000" stroke-width="2"/>
<line x1="320" y1="468.8" x2="320" y2="516.8" stroke="#000" stroke-width="2"/>
<line x1="392" y1="387.5" x2="392" y2="410.2" stroke="#000" stroke-width="1.2"/>
<line x1="392" y1="412.3" x2="392" y2="459.8" stroke="#000" stroke-width="1.2"/>
<line x1="392" y1="468.8" x2="392" y2="516.8" stroke="#000" stroke-width="1.2"/>
<line x1="463.75" y1="387.5" x2="463.75" y2="410.2" stroke="#000" stroke-width="1.2"/>
<line x1="463.75" y1="412.3" x2="463.75" y2="459.8" stroke="#000" stroke-width="1.2"/>
<line x1="463.75" y1="468.8" x2="463.75" y2="516.8" stroke="#000" stroke-width="1.2"/>
<line x1="535.5" y1="387.5" x2="535.5" y2="410.2" stroke="#000" stroke-width="1.2"/>
<line x1="535.5" y1="412.3" x2="535.5" y2="459.8" stroke="#000" stroke-width="1.2"/>
<line x1="535.5" y1="468.8" x2="535.5" y2="516.8" stroke="#000" stroke-width="1.2"/>
<line x1="607" y1="387.5" x2="607" y2="410.2" stroke="#000" stroke-width="1.2"/>
<line x1="607" y1="412.3" x2="607" y2="459.8" stroke="#000" stroke-width="1.2"/>
<line x1="607" y1="468.8" x2="607" y2="516.8" stroke="#000" stroke-width="1.2"/>
<line x1="678.75" y1="387.5" x2="678.75" y2="410.2" stroke="#000" stroke-width="1.2"/>
<line x1="678.75" y1="412.3" x2="678.75" y2="459.8" stroke="#000" stroke-width="1.2"/>
<line x1="678.75" y1="468.8" x2="678.75" y2="516.8" stroke="#000" stroke-width="1.2"/>
<rect x="58.5" y="383.3" width="112.80" height="20.10" fill="#fff" stroke="#000" stroke-width="2.3"/>
<text x="73.3" y="398" font-family='"Liberation Sans", sans-serif' font-size="13.4" fill="#000" stroke="#000" stroke-width="0.35" textLength="79.5" lengthAdjust="spacingAndGlyphs">Unisex Sizes</text>
<rect x="58.3" y="412.3" width="117.20" height="47.50" fill="#fff" stroke="#000" stroke-width="1.7"/>
<line x1="58.3" y1="435.5" x2="175.5" y2="435.5" stroke="#000" stroke-width="1.2"/>
<rect x="58.3" y="468.8" width="117.20" height="48.00" fill="#fff" stroke="#000" stroke-width="1.7"/>
<line x1="58.3" y1="493.8" x2="175.5" y2="493.8" stroke="#000" stroke-width="1.2"/>
<text x="61.5" y="428.50" font-family='"Liberation Sans", sans-serif' font-weight="bold" font-size="12.4" fill="#4f6a2c" stroke="#4f6a2c" stroke-width="0.25" textLength="88" lengthAdjust="spacingAndGlyphs">Hand Girth (CM)</text>
<text x="61.5" y="452.25" font-family='"Liberation Sans", sans-serif' font-weight="bold" font-size="12.4" fill="#4f6a2c" stroke="#4f6a2c" stroke-width="0.25" textLength="92.5" lengthAdjust="spacingAndGlyphs">Hand Girth (Inch)</text>
<text x="61.5" y="485.90" font-family='"Liberation Sans", sans-serif' font-weight="bold" font-size="12.4" fill="#223f77" stroke="#223f77" stroke-width="0.25" textLength="97" lengthAdjust="spacingAndGlyphs">Hand Length (CM)</text>
<text x="61.5" y="509.90" font-family='"Liberation Sans", sans-serif' font-weight="bold" font-size="12.4" fill="#223f77" stroke="#223f77" stroke-width="0.25" textLength="102.5" lengthAdjust="spacingAndGlyphs">Hand Length (Inch)</text>
<circle cx="40.8" cy="436.6" r="7.8" fill="#1a6630"/><path d="M39.85,441.40 L42.05,441.40 L42.05,431.10 L40.40,431.10 Q39.50,432.70 37.80,433.50 L37.80,435.40 Q38.90,435.00 39.85,434.20 Z" fill="#fff"/>
<circle cx="40.8" cy="493.5" r="7.8" fill="#1464b0"/><text x="40.8" y="498.1" font-family='"Liberation Sans", sans-serif' font-weight="bold" font-size="13" fill="#fff" text-anchor="middle">2</text>
<rect x="58.9" y="528.7" width="690.6" height="18.2" fill="none" stroke="#000" stroke-width="2.5"/>
<text x="70" y="542.5" font-family='"Liberation Sans", sans-serif' font-size="11" font-weight="bold" fill="#000" text-anchor="start" textLength="28.5" lengthAdjust="spacingAndGlyphs">Note:</text>
<text x="128.75" y="542" font-family='"Liberation Sans", sans-serif' font-size="11" font-weight="normal" fill="#111" text-anchor="start" textLength="270.5" lengthAdjust="spacingAndGlyphs">*XS-Slim and S-Slim only available in Markhof Pro V3</text>
<rect x="177.5" y="579.8" width="72.50" height="129.20" fill="#efefef"/>
<rect x="321.75" y="579.8" width="72.00" height="129.20" fill="#efefef"/>
<text x="213.75" y="596.40" font-family='"Liberation Sans", sans-serif' font-weight="bold" font-size="13.2" fill="#000" stroke="#000" stroke-width="0.2" text-anchor="middle">XS</text>
<text x="285.88" y="596.40" font-family='"Liberation Sans", sans-serif' font-weight="bold" font-size="13.2" fill="#000" stroke="#000" stroke-width="0.2" text-anchor="middle">S</text>
<text x="357.75" y="596.40" font-family='"Liberation Sans", sans-serif' font-weight="bold" font-size="13.2" fill="#000" stroke="#000" stroke-width="0.2" text-anchor="middle">M</text>
<text x="429.38" y="596.40" font-family='"Liberation Sans", sans-serif' font-weight="bold" font-size="13.2" fill="#000" stroke="#000" stroke-width="0.2" text-anchor="middle">L</text>
<text x="213.75" y="621.15" font-family='"Liberation Sans", sans-serif' font-size="12.3" fill="#4f6a2c" stroke="#4f6a2c" stroke-width="0.3" text-anchor="middle">16 - 17.5</text>
<text x="285.88" y="621.15" font-family='"Liberation Sans", sans-serif' font-size="12.3" fill="#4f6a2c" stroke="#4f6a2c" stroke-width="0.3" text-anchor="middle">17.5 - 18.5</text>
<text x="357.75" y="621.15" font-family='"Liberation Sans", sans-serif' font-size="12.3" fill="#4f6a2c" stroke="#4f6a2c" stroke-width="0.3" text-anchor="middle">18.5 - 20</text>
<text x="429.38" y="621.15" font-family='"Liberation Sans", sans-serif' font-size="12.3" fill="#4f6a2c" stroke="#4f6a2c" stroke-width="0.3" text-anchor="middle">20 - 21</text>
<text x="213.75" y="644.95" font-family='"Liberation Sans", sans-serif' font-size="12.3" fill="#4f6a2c" stroke="#4f6a2c" stroke-width="0.3" text-anchor="middle">6.3 - 6.8</text>
<text x="285.88" y="644.95" font-family='"Liberation Sans", sans-serif' font-size="12.3" fill="#4f6a2c" stroke="#4f6a2c" stroke-width="0.3" text-anchor="middle">6.8 - 7.3</text>
<text x="357.75" y="644.95" font-family='"Liberation Sans", sans-serif' font-size="12.3" fill="#4f6a2c" stroke="#4f6a2c" stroke-width="0.3" text-anchor="middle">7.3 - 7.8</text>
<text x="429.38" y="644.95" font-family='"Liberation Sans", sans-serif' font-size="12.3" fill="#4f6a2c" stroke="#4f6a2c" stroke-width="0.3" text-anchor="middle">7.8 - 8.2</text>
<text x="213.75" y="677.80" font-family='"Liberation Sans", sans-serif' font-size="12.3" fill="#223f77" stroke="#223f77" stroke-width="0.3" text-anchor="middle">15.5 - 16.3</text>
<text x="285.88" y="677.80" font-family='"Liberation Sans", sans-serif' font-size="12.3" fill="#223f77" stroke="#223f77" stroke-width="0.3" text-anchor="middle">16.3 - 17</text>
<text x="357.75" y="677.80" font-family='"Liberation Sans", sans-serif' font-size="12.3" fill="#223f77" stroke="#223f77" stroke-width="0.3" text-anchor="middle">17 - 18</text>
<text x="429.38" y="677.80" font-family='"Liberation Sans", sans-serif' font-size="12.3" fill="#223f77" stroke="#223f77" stroke-width="0.3" text-anchor="middle">18 - 19</text>
<text x="213.75" y="701.80" font-family='"Liberation Sans", sans-serif' font-size="12.3" fill="#223f77" stroke="#223f77" stroke-width="0.3" text-anchor="middle">6.1 - 6.4</text>
<text x="285.88" y="701.80" font-family='"Liberation Sans", sans-serif' font-size="12.3" fill="#223f77" stroke="#223f77" stroke-width="0.3" text-anchor="middle">6.4 - 6.7</text>
<text x="357.75" y="701.80" font-family='"Liberation Sans", sans-serif' font-size="12.3" fill="#223f77" stroke="#223f77" stroke-width="0.3" text-anchor="middle">6.7 - 7</text>
<text x="429.38" y="701.80" font-family='"Liberation Sans", sans-serif' font-size="12.3" fill="#223f77" stroke="#223f77" stroke-width="0.3" text-anchor="middle">7 - 7.5</text>
<line x1="176.5" y1="579.8" x2="466" y2="579.8" stroke="#000" stroke-width="1.6"/>
<line x1="177.5" y1="579.8" x2="177.5" y2="602.6" stroke="#000" stroke-width="2"/>
<line x1="465" y1="579.8" x2="465" y2="602.6" stroke="#000" stroke-width="2"/>
<rect x="177.5" y="602" width="287.50" height="1.0" fill="#111"/>
<rect x="177.5" y="603" width="287.50" height="0.9" fill="#f4f4f4"/>
<rect x="177.5" y="604.8" width="287.50" height="47.60" fill="none" stroke="#000" stroke-width="1.6"/>
<rect x="177.5" y="661" width="287.50" height="48.00" fill="none" stroke="#000" stroke-width="1.8"/>
<line x1="177.5" y1="628.3" x2="465" y2="628.3" stroke="#000" stroke-width="1.2"/>
<line x1="177.5" y1="685.4" x2="465" y2="685.4" stroke="#000" stroke-width="1.2"/>
<line x1="177.5" y1="652.4" x2="177.5" y2="661" stroke="#000" stroke-width="2"/>
<line x1="465" y1="652.4" x2="465" y2="661" stroke="#000" stroke-width="2"/>
<line x1="250" y1="579.8" x2="250" y2="602.6" stroke="#000" stroke-width="1.2"/>
<line x1="250" y1="604.8" x2="250" y2="652.4" stroke="#000" stroke-width="1.2"/>
<line x1="250" y1="661" x2="250" y2="709" stroke="#000" stroke-width="1.2"/>
<line x1="321.75" y1="579.8" x2="321.75" y2="602.6" stroke="#000" stroke-width="1.2"/>
<line x1="321.75" y1="604.8" x2="321.75" y2="652.4" stroke="#000" stroke-width="1.2"/>
<line x1="321.75" y1="661" x2="321.75" y2="709" stroke="#000" stroke-width="1.2"/>
<line x1="393.75" y1="579.8" x2="393.75" y2="602.6" stroke="#000" stroke-width="1.2"/>
<line x1="393.75" y1="604.8" x2="393.75" y2="652.4" stroke="#000" stroke-width="1.2"/>
<line x1="393.75" y1="661" x2="393.75" y2="709" stroke="#000" stroke-width="1.2"/>
<rect x="59.5" y="576.0" width="112.10" height="19.60" fill="#fff" stroke="#000" stroke-width="2.3"/>
<text x="73.7" y="590.8" font-family='"Liberation Sans", sans-serif' font-size="13.4" fill="#000" stroke="#000" stroke-width="0.35" textLength="83" lengthAdjust="spacingAndGlyphs">Female Sizes</text>
<rect x="58.3" y="604.8" width="119.20" height="47.60" fill="#fff" stroke="#000" stroke-width="1.7"/>
<line x1="58.3" y1="628.3" x2="177.5" y2="628.3" stroke="#000" stroke-width="1.2"/>
<rect x="58.3" y="661" width="119.20" height="48.00" fill="#fff" stroke="#000" stroke-width="1.7"/>
<line x1="58.3" y1="685.4" x2="177.5" y2="685.4" stroke="#000" stroke-width="1.2"/>
<text x="61.5" y="621.15" font-family='"Liberation Sans", sans-serif' font-weight="bold" font-size="12.4" fill="#4f6a2c" stroke="#4f6a2c" stroke-width="0.25" textLength="88" lengthAdjust="spacingAndGlyphs">Hand Girth (CM)</text>
<text x="61.5" y="644.95" font-family='"Liberation Sans", sans-serif' font-weight="bold" font-size="12.4" fill="#4f6a2c" stroke="#4f6a2c" stroke-width="0.25" textLength="92.5" lengthAdjust="spacingAndGlyphs">Hand Girth (Inch)</text>
<text x="61.5" y="677.80" font-family='"Liberation Sans", sans-serif' font-weight="bold" font-size="12.4" fill="#223f77" stroke="#223f77" stroke-width="0.25" textLength="97" lengthAdjust="spacingAndGlyphs">Hand Length (CM)</text>
<text x="61.5" y="701.80" font-family='"Liberation Sans", sans-serif' font-weight="bold" font-size="12.4" fill="#223f77" stroke="#223f77" stroke-width="0.25" textLength="102.5" lengthAdjust="spacingAndGlyphs">Hand Length (Inch)</text>
<circle cx="40.6" cy="632" r="7.8" fill="#1a6630"/><path d="M39.65,636.80 L41.85,636.80 L41.85,626.50 L40.20,626.50 Q39.30,628.10 37.60,628.90 L37.60,630.80 Q38.70,630.40 39.65,629.60 Z" fill="#fff"/>
<circle cx="40.6" cy="689.4" r="7.8" fill="#1464b0"/><text x="40.6" y="694.0" font-family='"Liberation Sans", sans-serif' font-weight="bold" font-size="13" fill="#fff" text-anchor="middle">2</text>
<rect x="58.7" y="720.1" width="690.8" height="17.7" fill="none" stroke="#000" stroke-width="2.5"/>
<text x="69.5" y="733.1" font-family='"Liberation Sans", sans-serif' font-size="11" font-weight="bold" fill="#000" text-anchor="start" textLength="28.5" lengthAdjust="spacingAndGlyphs">Note:</text>
<text x="128" y="732.9" font-family='"Liberation Sans", sans-serif' font-size="11" font-weight="normal" fill="#111" text-anchor="start" textLength="333.5" lengthAdjust="spacingAndGlyphs">Sizing applicable to the Womens Nordic Photography Glove Only</text>
</svg></body></html>
